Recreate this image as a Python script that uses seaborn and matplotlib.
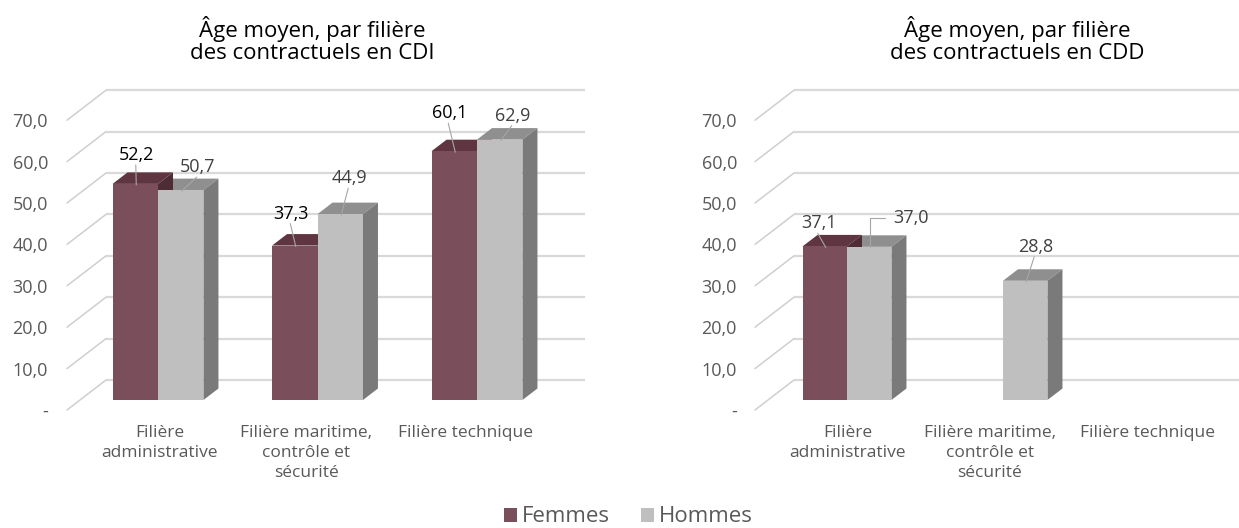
import numpy as np
import pandas as pd
import matplotlib
matplotlib.use("Agg")
import matplotlib.pyplot as plt
import seaborn as sns
from matplotlib.patches import Polygon, Rectangle
from matplotlib.transforms import ScaledTranslation

# ---------------- data ----------------
categories = ["Filière\nadministrative", "Filière maritime,\ncontrôle et\nsécurité", "Filière technique"]
sexes = ["Femmes", "Hommes"]
cdi_femmes = [52.2, 37.3, 60.1]
cdi_hommes = [50.7, 44.9, 62.9]
cdd_femmes = [37.1, np.nan, np.nan]
cdd_hommes = [37.0, 28.8, np.nan]
yticks = [0, 10, 20, 30, 40, 50, 60, 70]
ytick_labels = ["-", "10,0", "20,0", "30,0", "40,0", "50,0", "60,0", "70,0"]
titles = ["Âge moyen, par filière\ndes contractuels en CDI",
          "Âge moyen, par filière\ndes contractuels en CDD"]

# ---------------- style ----------------
sns.set_theme(style="white")
plt.rcParams["font.family"] = ["Open Sans", "DejaVu Sans"]

W, H = 1239, 528
DPI = 100
front = {"Femmes": "#7B4E5B", "Hommes": "#BFBFBF"}
top_c = {"Femmes": "#5E3540", "Hommes": "#8F8F8F"}
side_c = {"Femmes": "#4E2C35", "Hommes": "#7A7A7A"}
TXT = "#595959"
PPY = 4.14          # pixels per year
DEPTH = (15, 11.5)  # bar depth in px (right, up)
BACK = (26, 20)     # back wall shift in px
LBL = (-13, -10)    # tick label plane shift in px

fig = plt.figure(figsize=(W / DPI, H / DPI), dpi=DPI)


def px_axes(left, top, right, bottom):
    return fig.add_axes([left / W, 1 - bottom / H, (right - left) / W, (bottom - top) / H])


panels = [
    dict(fem=cdi_femmes, hom=cdi_hommes, box=(60, 80, 600, 400), c0=158, sp=159.5,
         wall_l=80, wall_r=559, lab_r=48, title_x=312, xshift=[2, -11, -11],
         offs={("Femmes", 0): (1.5, -29), ("Hommes", 0): (17, -23),
               ("Femmes", 1): (-3.5, -32), ("Hommes", 1): (9, -36),
               ("Femmes", 2): (-5, -38), ("Hommes", 2): (13, -24)},
         lcol={"Femmes": "#000000", "Hommes": "#404040"}),
    dict(fem=cdd_femmes, hom=cdd_hommes, box=(740, 80, 1235, 400), c0=847, sp=156,
         wall_l=768, wall_r=1213, lab_r=737, title_x=1017, xshift=[1, -13, -11],
         offs={("Femmes", 0): (-6, -23), ("Hommes", 0): (42, -29),
               ("Hommes", 1): (10, -34)},
         lcol={"Femmes": "#404040", "Hommes": "#404040"}),
]

for k, pan in enumerate(panels):
    l, t, r, b = pan["box"]
    ax = px_axes(l, t, r, b)
    c0, sp = pan["c0"], pan["sp"]
    X = lambda p: (p - c0) / sp
    DX = lambda p: p / sp
    DY = lambda p: p / PPY

    df = pd.DataFrame({
        "Filière": categories * 2,
        "Sexe": ["Femmes"] * 3 + ["Hommes"] * 3,
        "Âge": list(pan["fem"]) + list(pan["hom"]),
    }).dropna()
    sns.barplot(data=df, x="Filière", y="Âge", hue="Sexe", order=categories,
                hue_order=sexes, palette=front, width=0.57, saturation=1,
                errorbar=None, legend=False, ax=ax, zorder=3, linewidth=0)
    ax.set_xlim(X(l), X(r))
    ax.set_ylim(0, (b - t) / PPY)
    ax.set_xlabel("")
    ax.set_ylabel("")
    ax.set_yticks([])
    for s in ax.spines.values():
        s.set_visible(False)
    ax.patch.set_visible(False)
    ax.tick_params(axis="x", length=0, pad=18, labelsize=12.5, labelcolor=TXT)
    for lab, sh in zip(ax.get_xticklabels(), pan["xshift"]):
        lab.set_multialignment("center")
        lab.set_linespacing(1.32)
        lab.set_transform(lab.get_transform() + ScaledTranslation(sh / DPI, 0, fig.dpi_scale_trans))

    # back wall gridlines + perspective diagonals + tick labels
    wl, wr = X(pan["wall_l"]), X(pan["wall_r"])
    for v, txt in zip(yticks, ytick_labels):
        yb = v + DY(BACK[1])
        ax.plot([wl + DX(BACK[0]), wr + DX(BACK[0])], [yb, yb], color="#D9D9D9",
                lw=1.6, zorder=0, clip_on=False, solid_capstyle="butt")
        ax.plot([wl + DX(LBL[0]), wl + DX(BACK[0])], [v + DY(LBL[1]), yb],
                color="#CFCFCF", lw=1.1, zorder=0, clip_on=False)
        ax.text(X(pan["lab_r"]), v + DY(LBL[1]) - DY(2), txt, ha="right", va="center",
                fontsize=13, color=TXT, clip_on=False)

    # 3D faces and value labels
    for p in list(ax.patches):
        h = p.get_height()
        if not np.isfinite(h) or h == 0:
            continue
        x0, w = p.get_x(), p.get_width()
        fc = matplotlib.colors.to_hex(p.get_facecolor())
        sx = "Femmes" if fc.lower() == front["Femmes"].lower() else "Hommes"
        ci = int(round(x0 + w / 2))
        ddx, ddy = DX(DEPTH[0]), DY(DEPTH[1])
        zt = 2 if sx == "Femmes" else 1
        ax.add_patch(Polygon([(x0, h), (x0 + w, h), (x0 + w + ddx, h + ddy), (x0 + ddx, h + ddy)],
                             closed=True, facecolor=top_c[sx], edgecolor="none", zorder=zt,
                             clip_on=False))
        ax.add_patch(Polygon([(x0 + w, 0), (x0 + w + ddx, ddy), (x0 + w + ddx, h + ddy), (x0 + w, h)],
                             closed=True, facecolor=side_c[sx], edgecolor="none",
                             zorder=zt if sx == "Femmes" else 3, clip_on=False))
        ox, oy = pan["offs"].get((sx, ci), (0, -25))
        cx = x0 + w / 2
        lx, ly = cx + DX(ox), h - DY(oy)
        ax.text(lx, ly, f"{h:.1f}".replace(".", ","), ha="center", va="center",
                fontsize=13, color=pan["lcol"][sx], zorder=6, clip_on=False)
        if abs(ox) > 30:
            xs = [lx - DX(26), cx + DX(1), cx + DX(1)]
            ys = [ly, ly, h]
        else:
            xs = [lx - DX(1), cx + DX(1)]
            ys = [ly - DY(10), h - DY(1)]
        ax.plot(xs, ys, color="#A6A6A6", lw=0.8, zorder=6, clip_on=False)

    fig.text(pan["title_x"] / W, 1 - 40 / H, titles[k], ha="center",
             va="center", fontsize=16, color="black", linespacing=1.1)

handles = [Rectangle((0, 0), 1, 1, facecolor=front[s], edgecolor="none") for s in sexes]
fig.legend(handles, sexes, loc="center", bbox_to_anchor=(628 / W, 1 - 517 / H), ncol=2,
           frameon=False, fontsize=16, handlelength=0.6, handleheight=0.6,
           handletextpad=0.2, columnspacing=1.4, labelcolor=TXT)

fig.savefig("out.png", dpi=DPI)
